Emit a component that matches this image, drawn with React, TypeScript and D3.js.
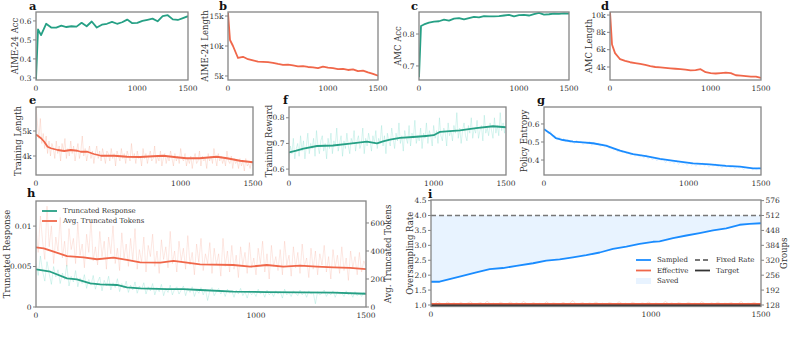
import React from "react";
import * as d3 from "d3";

const TEAL = "#26a085";
const RED = "#f0674a";
const BLUE = "#1a8cff";
const FRAME = "#858585";
const TXT = "#333";
const FONT = "'DejaVu Serif', serif";

const xTicks = [0, 1000, 1500];

// evaluation checkpoints (a-d)
const evalSteps = [0, 20, 50, 100, 150, 200, 250, 300, 350, 400, 450, 500, 550, 600, 650, 700, 750, 800, 850, 900, 950, 1000, 1050, 1100, 1150, 1200, 1250, 1300, 1350, 1400, 1450, 1500];
const aimeAcc = [0.29, 0.555, 0.525, 0.585, 0.565, 0.565, 0.575, 0.568, 0.572, 0.57, 0.59, 0.572, 0.597, 0.565, 0.58, 0.585, 0.595, 0.585, 0.593, 0.607, 0.588, 0.59, 0.6, 0.606, 0.612, 0.598, 0.625, 0.63, 0.608, 0.605, 0.615, 0.625];
const aimeLen = [15.5, 11.0, 10.0, 8.0, 8.2, 7.8, 7.6, 7.4, 7.35, 7.3, 7.2, 7.0, 6.85, 6.9, 6.75, 6.6, 6.65, 6.5, 6.45, 6.3, 6.55, 6.4, 6.3, 6.15, 6.2, 6.0, 6.1, 5.8, 5.9, 5.6, 5.35, 5.05];
const amcAcc = [0.665, 0.825, 0.83, 0.836, 0.839, 0.84, 0.845, 0.842, 0.848, 0.85, 0.846, 0.85, 0.854, 0.852, 0.856, 0.855, 0.855, 0.856, 0.858, 0.86, 0.855, 0.859, 0.86, 0.858, 0.862, 0.866, 0.861, 0.862, 0.864, 0.863, 0.865, 0.864];
const amcLen = [10.4, 6.6, 5.6, 4.9, 4.7, 4.55, 4.45, 4.35, 4.25, 4.1, 4.0, 3.95, 3.9, 3.85, 3.8, 3.75, 3.7, 3.6, 3.65, 3.75, 3.4, 3.3, 3.25, 3.3, 3.35, 3.3, 3.05, 3.0, 2.95, 2.9, 2.9, 2.75];

// training curves (e-g): smoothed
const trainLenSteps = [0, 35, 57, 80, 103, 150, 195, 240, 286, 310, 355, 400, 450, 540, 630, 720, 810, 880, 970, 1040, 1130, 1250, 1320, 1410, 1500];
const trainLen = [4.86, 4.71, 4.57, 4.37, 4.31, 4.24, 4.2, 4.24, 4.21, 4.17, 4.17, 4.08, 4.01, 4.01, 3.97, 3.96, 3.99, 4.01, 3.95, 3.91, 3.91, 3.97, 3.91, 3.81, 3.75];
const rewardSteps = [0, 50, 100, 194, 304, 421, 480, 539, 608, 650, 698, 767, 857, 947, 1000, 1016, 1044, 1182, 1293, 1410, 1500];
const reward = [0.665, 0.672, 0.68, 0.69, 0.692, 0.699, 0.703, 0.707, 0.7, 0.708, 0.715, 0.722, 0.725, 0.729, 0.732, 0.737, 0.745, 0.751, 0.76, 0.767, 0.763];
const entropySteps = [0, 41, 83, 131, 200, 269, 338, 428, 525, 615, 705, 802, 912, 1030, 1147, 1258, 1355, 1445, 1500];
const entropy = [0.571, 0.549, 0.521, 0.511, 0.502, 0.498, 0.493, 0.48, 0.452, 0.433, 0.422, 0.406, 0.394, 0.382, 0.376, 0.368, 0.363, 0.354, 0.354];

// training curves: raw logs, evenly spaced over 0-1500 steps
const trainLenRaw = [
  5.95, 5.3, 4.7, 5.5, 4.5, 4.9, 4.3, 4.8, 4.1, 4.6, 4.0, 4.5, 4.3, 3.9, 4.6, 4.1, 4.4, 3.8, 4.5, 4.2,
  4.7, 3.9, 4.3, 4.0, 4.6, 4.1, 4.4, 3.8, 4.2, 4.5, 3.9, 4.2, 4.8, 4.0, 4.3, 3.8, 4.1, 4.4, 3.9, 4.2,
  3.7, 4.1, 4.4, 3.9, 4.2, 3.8, 4.3, 4.0, 3.7, 4.2, 4.1, 3.8, 4.3, 3.9, 4.1, 3.6, 4.2, 4.0, 3.8, 4.3,
  3.9, 4.1, 3.7, 4.2, 4.0, 3.8, 4.5, 3.9, 4.1, 3.7, 4.2, 3.9, 4.0, 3.6, 4.3, 3.9, 4.1, 3.7, 4.0, 4.2,
  3.8, 3.9, 4.4, 3.7, 4.0, 3.8, 4.2, 3.6, 3.9, 4.1, 3.7, 4.0, 3.8, 4.2, 3.9, 3.6, 4.1, 3.8, 4.0, 3.7,
  4.3, 3.9, 3.8, 4.1, 3.6, 3.9, 3.7, 4.0, 3.5, 3.9, 4.1, 3.7, 3.8, 4.2, 3.6, 4.0, 3.8, 3.9, 3.5, 4.1,
  3.8, 4.0, 3.7, 4.3, 3.9, 3.6, 4.1, 3.8, 4.0, 3.7, 3.9, 3.6, 4.2, 3.8, 3.7, 4.0, 3.5, 3.9, 3.7, 3.8,
  3.5, 3.9, 3.6, 3.8, 3.4, 3.9, 3.6, 3.7, 3.5, 3.8, 3.6,
];
const rewardRaw = [
  0.63, 0.69, 0.66, 0.72, 0.64, 0.68, 0.7, 0.65, 0.73, 0.67, 0.71, 0.64, 0.69, 0.74, 0.66, 0.7, 0.68, 0.72, 0.65, 0.75,
  0.69, 0.66, 0.71, 0.73, 0.67, 0.7, 0.64, 0.72, 0.68, 0.74, 0.66, 0.71, 0.69, 0.76, 0.67, 0.7, 0.73, 0.65, 0.71, 0.68,
  0.74, 0.69, 0.66, 0.72, 0.7, 0.75, 0.67, 0.71, 0.73, 0.68, 0.7, 0.76, 0.66, 0.72, 0.69, 0.74, 0.71, 0.67, 0.73, 0.7,
  0.75, 0.68, 0.72, 0.7, 0.77, 0.69, 0.73, 0.66, 0.74, 0.71, 0.69, 0.76, 0.72, 0.68, 0.74, 0.71, 0.78, 0.7, 0.73, 0.67,
  0.75, 0.72, 0.7, 0.77, 0.69, 0.74, 0.72, 0.79, 0.7, 0.73, 0.71, 0.76, 0.68, 0.74, 0.72, 0.78, 0.7, 0.75, 0.73, 0.69,
  0.77, 0.72, 0.75, 0.7, 0.8, 0.73, 0.71, 0.76, 0.74, 0.69, 0.78, 0.73, 0.75, 0.71, 0.77, 0.74, 0.82, 0.72, 0.76, 0.7,
  0.75, 0.78, 0.73, 0.71, 0.77, 0.74, 0.8, 0.72, 0.76, 0.74, 0.79, 0.72, 0.75, 0.77, 0.71, 0.81, 0.74, 0.76, 0.73, 0.78,
  0.75, 0.72, 0.8, 0.74, 0.77, 0.73, 0.82, 0.75, 0.78, 0.74, 0.79,
];
const entropyRaw = [0.58, 0.57, 0.545, 0.56, 0.53, 0.535, 0.51, 0.53, 0.505, 0.52, 0.5, 0.515, 0.495, 0.51, 0.49, 0.51, 0.495, 0.505, 0.485, 0.5, 0.49, 0.505, 0.48, 0.5, 0.485, 0.495, 0.475, 0.49, 0.47, 0.485, 0.465, 0.47, 0.455, 0.465, 0.445, 0.46, 0.44, 0.45, 0.435, 0.445, 0.425, 0.44, 0.42, 0.435, 0.415, 0.43, 0.41, 0.43, 0.405, 0.42, 0.4, 0.415, 0.395, 0.41, 0.395, 0.405, 0.385, 0.4, 0.385, 0.395, 0.38, 0.4, 0.375, 0.39, 0.375, 0.385, 0.37, 0.39, 0.37, 0.385, 0.365, 0.38, 0.37, 0.385, 0.365, 0.38, 0.36, 0.375, 0.365, 0.38, 0.36, 0.37, 0.355, 0.375, 0.36, 0.37, 0.355, 0.37, 0.35, 0.365, 0.355, 0.365, 0.345, 0.36, 0.35, 0.36, 0.345, 0.355, 0.345, 0.36, 0.35];

// truncation (h): response rate in units of 1e-3, tokens
const truncSteps = [0, 65, 141, 186, 247, 292, 368, 413, 474, 595, 670, 746, 897, 1049, 1200, 1352, 1500];
const truncRate = [4.65, 4.36, 3.54, 3.42, 2.92, 2.8, 2.72, 2.43, 2.31, 2.22, 2.22, 2.1, 1.89, 1.85, 1.81, 1.77, 1.64];
const tokenSteps = [0, 35, 80, 141, 216, 277, 352, 413, 474, 565, 625, 686, 746, 897, 973, 1049, 1124, 1200, 1276, 1352, 1427, 1500];
const truncTokens = [426, 419, 395, 364, 355, 341, 352, 336, 319, 317, 329, 317, 305, 300, 288, 300, 288, 295, 288, 283, 279, 271];
const truncRateRaw = [
  5.4, 3.9, 6.3, 4.4, 3.2, 5.6, 4.1, 2.8, 5.0, 3.7, 4.6, 2.9, 4.2, 3.4, 5.2, 2.6, 3.8, 3.1, 4.5, 2.5,
  3.6, 2.9, 4.0, 2.3, 3.4, 2.7, 3.9, 2.2, 3.1, 3.7, 2.0, 3.3, 2.6, 3.8, 2.1, 3.0, 2.4, 3.5, 1.9, 2.9,
  2.3, 3.2, 1.8, 2.7, 2.1, 3.1, 1.7, 2.6, 2.2, 3.0, 1.6, 2.5, 2.0, 2.9, 1.5, 2.4, 1.9, 2.8, 1.4, 2.3,
  1.8, 2.7, 1.5, 2.2, 2.5, 1.6, 2.1, 2.6, 1.4, 2.3, 1.8, 2.5, 1.3, 2.1, 1.7, 2.4, 1.5, 2.2, 0.8, 2.0,
  2.4, 1.4, 1.9, 2.3, 1.6, 2.1, 1.3, 2.2, 1.7, 2.0, 1.2, 2.1, 1.6, 2.3, 1.4, 1.9, 1.1, 2.0, 1.5, 1.8,
  1.3, 2.2, 1.6, 1.9, 1.2, 2.1, 1.5, 1.8, 1.3, 2.0, 1.6, 1.9, 1.1, 2.2, 1.5, 1.8, 1.3, 2.0, 1.7, 1.4,
  2.1, 1.5, 1.9, 1.2, 2.0, 1.6, 1.8, 0.4, 1.9, 1.5, 1.7, 2.1, 1.3, 1.8, 1.5, 2.0, 1.2, 1.9, 1.6, 1.7,
  1.3, 2.0, 1.5, 1.8, 1.2, 1.9, 1.4, 1.7, 1.3, 1.8, 1.5,
];
const truncTokensRaw = [
  560, 390, 650, 470, 340, 720, 430, 580, 310, 500, 400, 640, 350, 470, 290, 560, 410, 490, 310, 600,
  370, 450, 280, 520, 390, 620, 330, 430, 300, 540, 360, 470, 270, 500, 380, 580, 310, 420, 260, 530,
  350, 450, 290, 490, 330, 560, 270, 410, 320, 500, 250, 440, 360, 520, 290, 400, 240, 480, 340, 430,
  280, 540, 310, 400, 250, 470, 330, 420, 270, 510, 300, 390, 230, 450, 320, 490, 260, 380, 310, 460,
  240, 420, 300, 380, 220, 490, 290, 400, 250, 440, 270, 370, 210, 430, 300, 390, 240, 460, 280, 350,
  230, 420, 310, 470, 250, 380, 200, 440, 290, 360, 260, 410, 230, 470, 300, 370, 220, 430, 280, 390,
  240, 450, 290, 350, 210, 420, 270, 400, 230, 380, 300, 440, 250, 360, 200, 410, 280, 370, 240, 430,
  260, 350, 190, 400, 280, 360, 230, 390, 250, 330, 290,
];

// oversampling (i)
const sampledSteps = [0, 39, 130, 206, 267, 327, 388, 464, 524, 585, 645, 706, 767, 827, 888, 948, 1009, 1039, 1100, 1161, 1221, 1282, 1342, 1403, 1448, 1500];
const sampledRate = [1.78, 1.78, 1.95, 2.09, 2.2, 2.24, 2.31, 2.4, 2.49, 2.53, 2.6, 2.67, 2.76, 2.88, 2.96, 3.05, 3.12, 3.13, 3.24, 3.33, 3.41, 3.5, 3.57, 3.69, 3.72, 3.74];
const effectiveRaw = [1.08, 1.03, 1.12, 1.05, 1.02, 1.1, 1.04, 1.07, 1.01, 1.09, 1.03, 1.06, 1.11, 1.02, 1.05, 1.08, 1.03, 1.13, 1.04, 1.06, 1.02, 1.09, 1.05, 1.03, 1.1, 1.04, 1.07, 1.02, 1.12, 1.05, 1.03, 1.08, 1.04, 1.06, 1.02, 1.11, 1.03, 1.07, 1.05, 1.02, 1.09, 1.04, 1.06, 1.15, 1.03, 1.05, 1.08, 1.02, 1.07, 1.04, 1.1, 1.03, 1.06, 1.02, 1.08, 1.05, 1.03, 1.11, 1.04, 1.06, 1.02, 1.09, 1.05, 1.03, 1.07, 1.04, 1.1, 1.02, 1.06, 1.05, 1.03, 1.12, 1.04, 1.07, 1.02, 1.08, 1.05, 1.03, 1.09, 1.04, 1.06, 1.02, 1.11, 1.05, 1.03, 1.07, 1.04, 1.1, 1.02, 1.06, 1.05, 1.08, 1.03, 1.04, 1.12, 1.02, 1.06, 1.05, 1.09, 1.03, 1.07];
const effectiveSteps = [0, 500, 1000, 1500];
const effectiveRate = [1.04, 1.04, 1.04, 1.04];
const fixedRate = 4.0;
const targetRate = 1.0;
const groupsPerRate = 128;

const rawSteps = (n: number) => d3.range(n).map((i) => (i * 1500) / (n - 1));

type Series = { xs: number[]; ys: number[]; color: string; w: number; op?: number; right?: boolean; dash?: string };
type PanelCfg = {
  id: string; l: number; r: number; t: number; b: number;
  yDomain: number[]; yTicks: number[]; fmt: (d: number) => string;
  label: string; labelX: number; letterX: number; letterY: number;
  y2Domain?: number[]; y2Ticks?: number[]; y2Label?: string; y2LabelX?: number;
  series: Series[]; saved?: boolean;
};

const k = (d: number) => `${d}k`;
const f1 = (d: number) => d.toFixed(1);

const panels: PanelCfg[] = [
  { id: "a", l: 36, r: 188, t: 12, b: 80, yDomain: [0.289, 0.647], yTicks: [0.3, 0.4, 0.5, 0.6], fmt: f1, label: "AIME-24 Acc", labelX: 15, letterX: 29, letterY: 10,
    series: [{ xs: evalSteps, ys: aimeAcc, color: TEAL, w: 1.8 }] },
  { id: "b", l: 228, r: 378, t: 12, b: 80, yDomain: [4.33, 15.67], yTicks: [5, 10, 15], fmt: k, label: "AIME-24 Length", labelX: 205, letterX: 219, letterY: 10,
    series: [{ xs: evalSteps, ys: aimeLen, color: RED, w: 1.8 }] },
  { id: "c", l: 419, r: 569, t: 12, b: 80, yDomain: [0.656, 0.869], yTicks: [0.7, 0.8], fmt: f1, label: "AMC Acc", labelX: 398, letterX: 411, letterY: 10,
    series: [{ xs: evalSteps, ys: amcAcc, color: TEAL, w: 1.8 }] },
  { id: "d", l: 610, r: 761, t: 12, b: 80, yDomain: [2.5, 10.35], yTicks: [4, 6, 8, 10], fmt: k, label: "AMC Length", labelX: 589, letterX: 601, letterY: 10,
    series: [{ xs: evalSteps, ys: amcLen, color: RED, w: 1.8 }] },
  { id: "e", l: 36, r: 253, t: 107, b: 175, yDomain: [3.24, 5.96], yTicks: [4, 5], fmt: k, label: "Training Length", labelX: 18, letterX: 29, letterY: 104,
    series: [{ xs: rawSteps(trainLenRaw.length), ys: trainLenRaw, color: "#f5a08a", w: 0.7, op: 0.4 }, { xs: trainLenSteps, ys: trainLen, color: RED, w: 1.8 }] },
  { id: "f", l: 289, r: 506, t: 107, b: 175, yDomain: [0.577, 0.842], yTicks: [0.6, 0.7, 0.8], fmt: f1, label: "Training Reward", labelX: 269, letterX: 283, letterY: 104,
    series: [{ xs: rawSteps(rewardRaw.length), ys: rewardRaw, color: "#7fdccd", w: 0.7, op: 0.45 }, { xs: rewardSteps, ys: reward, color: TEAL, w: 1.8 }] },
  { id: "g", l: 544, r: 761, t: 107, b: 175, yDomain: [0.317, 0.694], yTicks: [0.4, 0.5, 0.6], fmt: f1, label: "Policy Entropy", labelX: 524, letterX: 537, letterY: 104,
    series: [{ xs: rawSteps(entropyRaw.length), ys: entropyRaw, color: "#8cc6ff", w: 0.7, op: 0.35 }, { xs: entropySteps, ys: entropy, color: BLUE, w: 1.8 }] },
  { id: "h", l: 36, r: 366, t: 201, b: 307, yDomain: [0, 13.1], yTicks: [0, 5, 10], fmt: (d) => (d === 0 ? "0" : String(d / 1000)), label: "Truncated Response", labelX: 7, letterX: 27, letterY: 197,
    y2Domain: [0, 757], y2Ticks: [0, 200, 400, 600], y2Label: "Avg. Truncated Tokens", y2LabelX: 388,
    series: [
      { xs: rawSteps(truncTokensRaw.length), ys: truncTokensRaw, color: "#f5a08a", w: 0.7, op: 0.35, right: true },
      { xs: rawSteps(truncRateRaw.length), ys: truncRateRaw, color: "#7fdccd", w: 0.7, op: 0.45 },
      { xs: truncSteps, ys: truncRate, color: TEAL, w: 1.8 },
      { xs: tokenSteps, ys: truncTokens, color: RED, w: 1.8, right: true },
    ] },
  { id: "i", l: 431, r: 761, t: 200, b: 306.5, yDomain: [0.95, 4.52], yTicks: [1, 1.5, 2, 2.5, 3, 3.5, 4, 4.5], fmt: f1, label: "Oversampling Rate", labelX: 410, letterX: 428, letterY: 197.5,
    y2Domain: [0.95 * groupsPerRate, 4.52 * groupsPerRate], y2Ticks: [128, 192, 256, 320, 384, 448, 512, 576], y2Label: "Groups", y2LabelX: 784, saved: true,
    series: [
      { xs: rawSteps(effectiveRaw.length), ys: effectiveRaw, color: "#f5a08a", w: 0.7, op: 0.5 },
      { xs: [0, 1500], ys: [fixedRate, fixedRate], color: "#777", w: 1.5, dash: "5,3" },
      { xs: [0, 1500], ys: [targetRate, targetRate], color: "#333", w: 1.8 },
      { xs: effectiveSteps, ys: effectiveRate, color: RED, w: 1.6 },
      { xs: sampledSteps, ys: sampledRate, color: BLUE, w: 1.8 },
    ] },
];

function Panel({ p }: { p: PanelCfg }) {
  const x = d3.scaleLinear().domain([0, 1500]).range([p.l, p.r]);
  const y = d3.scaleLinear().domain(p.yDomain).range([p.b, p.t]);
  const y2 = p.y2Domain ? d3.scaleLinear().domain(p.y2Domain).range([p.b, p.t]) : null;
  const midY = (p.t + p.b) / 2;
  const path = (s: Series) => {
    const sc = s.right && y2 ? y2 : y;
    return d3.line<number>().x((_, i) => x(s.xs[i])).y((d) => sc(d))(s.ys) || "";
  };
  const savedArea = p.saved
    ? d3.area<number>().x((_, i) => x(sampledSteps[i])).y0(y(fixedRate)).y1((d) => y(d))(sampledRate) || ""
    : "";
  return (
    <g>
      <clipPath id={`clip-${p.id}`}>
        <rect x={p.l} y={p.t} width={p.r - p.l} height={p.b - p.t} />
      </clipPath>
      <g clipPath={`url(#clip-${p.id})`}>
        {p.saved && <path d={savedArea} fill={BLUE} fillOpacity={0.1} />}
        {p.series.map((s, i) => (
          <path key={i} d={path(s)} fill="none" stroke={s.color} strokeWidth={s.w} strokeOpacity={s.op ?? 1} strokeDasharray={s.dash} strokeLinejoin="round" />
        ))}
      </g>
      <rect x={p.l} y={p.t} width={p.r - p.l} height={p.b - p.t} fill="none" stroke={FRAME} strokeWidth={1.3} />
      {p.yTicks.map((t) => (
        <g key={t}>
          <line x1={p.l} x2={p.l - 3} y1={y(t)} y2={y(t)} stroke={FRAME} />
          <text x={p.l - 4.5} y={y(t)} dy="0.35em" textAnchor="end" fontSize={7.5}>{p.fmt(t)}</text>
        </g>
      ))}
      {y2 && p.y2Ticks!.map((t) => (
        <g key={t}>
          <line x1={p.r} x2={p.r + 3} y1={y2(t)} y2={y2(t)} stroke={FRAME} />
          <text x={p.r + 4.5} y={y2(t)} dy="0.35em" fontSize={7.5}>{t}</text>
        </g>
      ))}
      {xTicks.map((t) => (
        <text key={t} x={x(t)} y={p.b + 10.5} textAnchor="middle" fontSize={7.5}>{t}</text>
      ))}
      <text transform={`translate(${p.labelX},${midY}) rotate(-90)`} dy="0.35em" textAnchor="middle" fontSize={8.5}>{p.label}</text>
      {y2 && (
        <text transform={`translate(${p.y2LabelX},${midY}) rotate(-90)`} dy="0.35em" textAnchor="middle" fontSize={8.5}>{p.y2Label}</text>
      )}
      <text x={p.letterX} y={p.letterY} fontSize={11.5} fontWeight="bold" fill="#111">{p.id}</text>
    </g>
  );
}

function LegendItem({ x, y, color, label, dash, patch }: { x: number; y: number; color: string; label: string; dash?: string; patch?: boolean }) {
  return (
    <g>
      {patch ? (
        <rect x={x} y={y - 3} width={15} height={6} fill={BLUE} fillOpacity={0.1} />
      ) : (
        <line x1={x} x2={x + 15} y1={y} y2={y} stroke={color} strokeWidth={1.8} strokeDasharray={dash} />
      )}
      <text x={x + 21} y={y} dy="0.35em" fontSize={7}>{label}</text>
    </g>
  );
}

export default function App() {
  return (
    <svg width={793} height={338} style={{ position: "absolute", left: 0, top: 0, background: "#fff" }} fontFamily={FONT} fill={TXT}>
      {panels.map((p) => (
        <Panel key={p.id} p={p} />
      ))}
      <LegendItem x={42} y={211} color={TEAL} label="Truncated Response" />
      <LegendItem x={42} y={221} color={RED} label="Avg. Truncated Tokens" />
      <LegendItem x={636} y={260} color={BLUE} label="Sampled" />
      <LegendItem x={636} y={270.5} color={RED} label="Effective" />
      <LegendItem x={636} y={281} color={BLUE} label="Saved" patch />
      <LegendItem x={695} y={260} color="#777" label="Fixed Rate" dash="5,3" />
      <LegendItem x={695} y={270.5} color="#333" label="Target" />
    </svg>
  );
}
